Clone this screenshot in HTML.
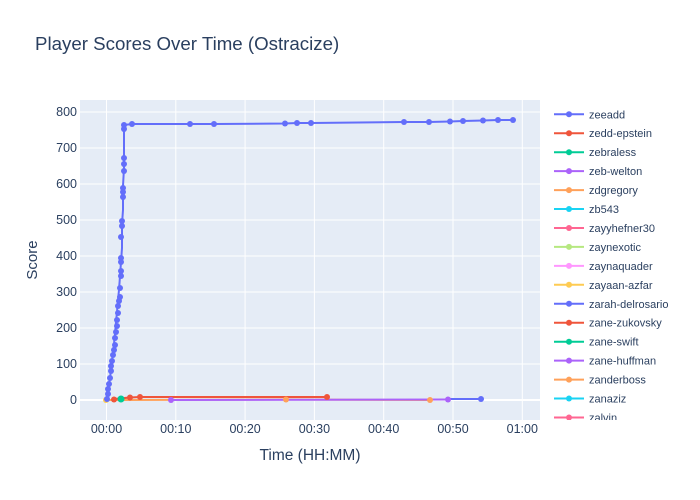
<!DOCTYPE html>
<html><head><meta charset="utf-8"><style>body{margin:0;background:#fff}svg{display:block;font-family:"Liberation Sans","DejaVu Sans",sans-serif}</style></head><body>
<svg width="700" height="500" xmlns="http://www.w3.org/2000/svg">
<rect width="700" height="500" fill="#fff"/>
<text x="35" y="50" font-size="18.7" fill="#2a3f5f">Player Scores Over Time (Ostracize)</text>
<rect x="80" y="100" width="460" height="320" fill="#e5ecf6"/>
<g stroke="#fff" stroke-width="1">
<line x1="80" x2="540" y1="112" y2="112"/><line x1="80" x2="540" y1="148" y2="148"/><line x1="80" x2="540" y1="184" y2="184"/><line x1="80" x2="540" y1="220" y2="220"/><line x1="80" x2="540" y1="256" y2="256"/><line x1="80" x2="540" y1="292" y2="292"/><line x1="80" x2="540" y1="328" y2="328"/><line x1="80" x2="540" y1="364" y2="364"/>
<line y1="100" y2="420" x1="106.5" x2="106.5"/><line y1="100" y2="420" x1="175.8" x2="175.8"/><line y1="100" y2="420" x1="245.1" x2="245.1"/><line y1="100" y2="420" x1="314.4" x2="314.4"/><line y1="100" y2="420" x1="383.7" x2="383.7"/><line y1="100" y2="420" x1="453" x2="453"/><line y1="100" y2="420" x1="522.3" x2="522.3"/>
</g>
<line x1="80" x2="540" y1="400" y2="400" stroke="#fff" stroke-width="2"/>
<g font-size="12.5" fill="#2a3f5f" text-anchor="end">
<text x="77" y="116">800</text><text x="77" y="152">700</text><text x="77" y="188">600</text><text x="77" y="224">500</text><text x="77" y="260">400</text><text x="77" y="296">300</text><text x="77" y="332">200</text><text x="77" y="368">100</text><text x="77" y="404">0</text>
</g>
<g font-size="12.5" fill="#2a3f5f" text-anchor="middle">
<text x="106.5" y="433">00:00</text><text x="175.8" y="433">00:10</text><text x="245.1" y="433">00:20</text><text x="314.4" y="433">00:30</text><text x="383.7" y="433">00:40</text><text x="453" y="433">00:50</text><text x="522.3" y="433">01:00</text>
</g>
<text x="310" y="460" font-size="15.5" fill="#2a3f5f" text-anchor="middle">Time (HH:MM)</text>
<text transform="translate(37,260) rotate(-90)" font-size="15" fill="#2a3f5f" text-anchor="middle">Score</text>
<polyline fill="none" stroke="#FFA15A" stroke-width="2" points="106,400 286,399.5 430,400"/>
<polyline fill="none" stroke="#ab63fa" stroke-width="2" points="171,400 448,399.5"/>
<polyline fill="none" stroke="#636efa" stroke-width="2" points="446,399 481,399"/>
<polyline fill="none" stroke="#EF553B" stroke-width="2" points="114,399 130,397.5 140,397 327,397"/>
<g fill="#FFA15A"><circle cx="286" cy="399.5" r="3"/><circle cx="430" cy="400" r="3"/></g>
<g fill="#ab63fa"><circle cx="171" cy="400" r="3"/><circle cx="448" cy="399.5" r="3"/></g>
<circle cx="481" cy="399" r="3" fill="#636efa"/>
<g fill="#EF553B"><circle cx="114" cy="399.5" r="3"/><circle cx="130" cy="397.5" r="3"/><circle cx="140" cy="397" r="3"/><circle cx="327" cy="397" r="3"/></g>
<circle cx="106" cy="400" r="3" fill="#FECB52"/>
<circle cx="121" cy="399" r="3.5" fill="#00cc96"/>
<polyline fill="none" stroke="#636efa" stroke-width="2" points="107,399 108,392 109,385 110,378 111,370 112,362 113,352 114,344 115,334 116,322 117,312 118,300 119,290 120,276 121,262 122,248 122,236 122,224 123,210 123,196 123,186 124,168 124,150 124,128 124,125 132,124 190,124 214,124 285,123.5 297,123 311,123 404,122 429,122 450,121.5 463,121 483,120.5 498,120 513,120"/>
<g fill="#636efa">
<circle cx="107" cy="399" r="3"/><circle cx="108" cy="394" r="3"/><circle cx="108" cy="389" r="3"/><circle cx="109" cy="384" r="3"/><circle cx="110" cy="378" r="3"/><circle cx="111" cy="371" r="3"/><circle cx="111" cy="366" r="3"/><circle cx="112" cy="361" r="3"/><circle cx="113" cy="355" r="3"/><circle cx="114" cy="350" r="3"/><circle cx="115" cy="345" r="3"/><circle cx="115" cy="338" r="3"/><circle cx="116" cy="332" r="3"/><circle cx="117" cy="326" r="3"/><circle cx="117" cy="320" r="3"/><circle cx="118" cy="313" r="3"/><circle cx="118" cy="306" r="3"/><circle cx="119" cy="301" r="3"/><circle cx="120" cy="297" r="3"/><circle cx="120" cy="288" r="3"/><circle cx="121" cy="276" r="3"/><circle cx="121" cy="271" r="3"/><circle cx="121" cy="262" r="3"/><circle cx="121" cy="258" r="3"/><circle cx="121" cy="237" r="3"/><circle cx="122" cy="226" r="3"/><circle cx="122" cy="221" r="3"/><circle cx="123" cy="197" r="3"/><circle cx="123" cy="192" r="3"/><circle cx="123" cy="188" r="3"/><circle cx="124" cy="171" r="3"/><circle cx="124" cy="164" r="3"/><circle cx="124" cy="158" r="3"/><circle cx="124" cy="129" r="3"/><circle cx="124" cy="125" r="3"/><circle cx="132" cy="124" r="3"/><circle cx="190" cy="124" r="3"/><circle cx="214" cy="124" r="3"/><circle cx="285" cy="123.5" r="3"/><circle cx="297" cy="123" r="3"/><circle cx="311" cy="123" r="3"/><circle cx="404" cy="122" r="3"/><circle cx="429" cy="122" r="3"/><circle cx="450" cy="121.5" r="3"/><circle cx="463" cy="121" r="3"/><circle cx="483" cy="120.5" r="3"/><circle cx="498" cy="120" r="3"/><circle cx="513" cy="120" r="3"/>
</g>
<defs><clipPath id="lc"><rect x="545" y="100" width="155" height="320"/></clipPath></defs>
<g clip-path="url(#lc)" font-size="11" fill="#2a3f5f" stroke-width="2">
<g transform="translate(0,114.3)"><line x1="554" x2="584" stroke="#636efa"/><circle cx="569" r="3" fill="#636efa"/><text x="589" y="4">zeeadd</text></g>
<g transform="translate(0,133.2)"><line x1="554" x2="584" stroke="#EF553B"/><circle cx="569" r="3" fill="#EF553B"/><text x="589" y="4">zedd-epstein</text></g>
<g transform="translate(0,152.2)"><line x1="554" x2="584" stroke="#00cc96"/><circle cx="569" r="3" fill="#00cc96"/><text x="589" y="4">zebraless</text></g>
<g transform="translate(0,171.1)"><line x1="554" x2="584" stroke="#ab63fa"/><circle cx="569" r="3" fill="#ab63fa"/><text x="589" y="4">zeb-welton</text></g>
<g transform="translate(0,190.1)"><line x1="554" x2="584" stroke="#FFA15A"/><circle cx="569" r="3" fill="#FFA15A"/><text x="589" y="4">zdgregory</text></g>
<g transform="translate(0,209.0)"><line x1="554" x2="584" stroke="#19d3f3"/><circle cx="569" r="3" fill="#19d3f3"/><text x="589" y="4">zb543</text></g>
<g transform="translate(0,228.0)"><line x1="554" x2="584" stroke="#FF6692"/><circle cx="569" r="3" fill="#FF6692"/><text x="589" y="4">zayyhefner30</text></g>
<g transform="translate(0,246.9)"><line x1="554" x2="584" stroke="#B6E880"/><circle cx="569" r="3" fill="#B6E880"/><text x="589" y="4">zaynexotic</text></g>
<g transform="translate(0,265.9)"><line x1="554" x2="584" stroke="#FF97FF"/><circle cx="569" r="3" fill="#FF97FF"/><text x="589" y="4">zaynaquader</text></g>
<g transform="translate(0,284.8)"><line x1="554" x2="584" stroke="#FECB52"/><circle cx="569" r="3" fill="#FECB52"/><text x="589" y="4">zayaan-azfar</text></g>
<g transform="translate(0,303.8)"><line x1="554" x2="584" stroke="#636efa"/><circle cx="569" r="3" fill="#636efa"/><text x="589" y="4">zarah-delrosario</text></g>
<g transform="translate(0,322.7)"><line x1="554" x2="584" stroke="#EF553B"/><circle cx="569" r="3" fill="#EF553B"/><text x="589" y="4">zane-zukovsky</text></g>
<g transform="translate(0,341.7)"><line x1="554" x2="584" stroke="#00cc96"/><circle cx="569" r="3" fill="#00cc96"/><text x="589" y="4">zane-swift</text></g>
<g transform="translate(0,360.6)"><line x1="554" x2="584" stroke="#ab63fa"/><circle cx="569" r="3" fill="#ab63fa"/><text x="589" y="4">zane-huffman</text></g>
<g transform="translate(0,379.6)"><line x1="554" x2="584" stroke="#FFA15A"/><circle cx="569" r="3" fill="#FFA15A"/><text x="589" y="4">zanderboss</text></g>
<g transform="translate(0,398.5)"><line x1="554" x2="584" stroke="#19d3f3"/><circle cx="569" r="3" fill="#19d3f3"/><text x="589" y="4">zanaziz</text></g>
<g transform="translate(0,417.5)"><line x1="554" x2="584" stroke="#FF6692"/><circle cx="569" r="3" fill="#FF6692"/><text x="589" y="4">zalvin</text></g>
</g>
</svg>
</body></html>
